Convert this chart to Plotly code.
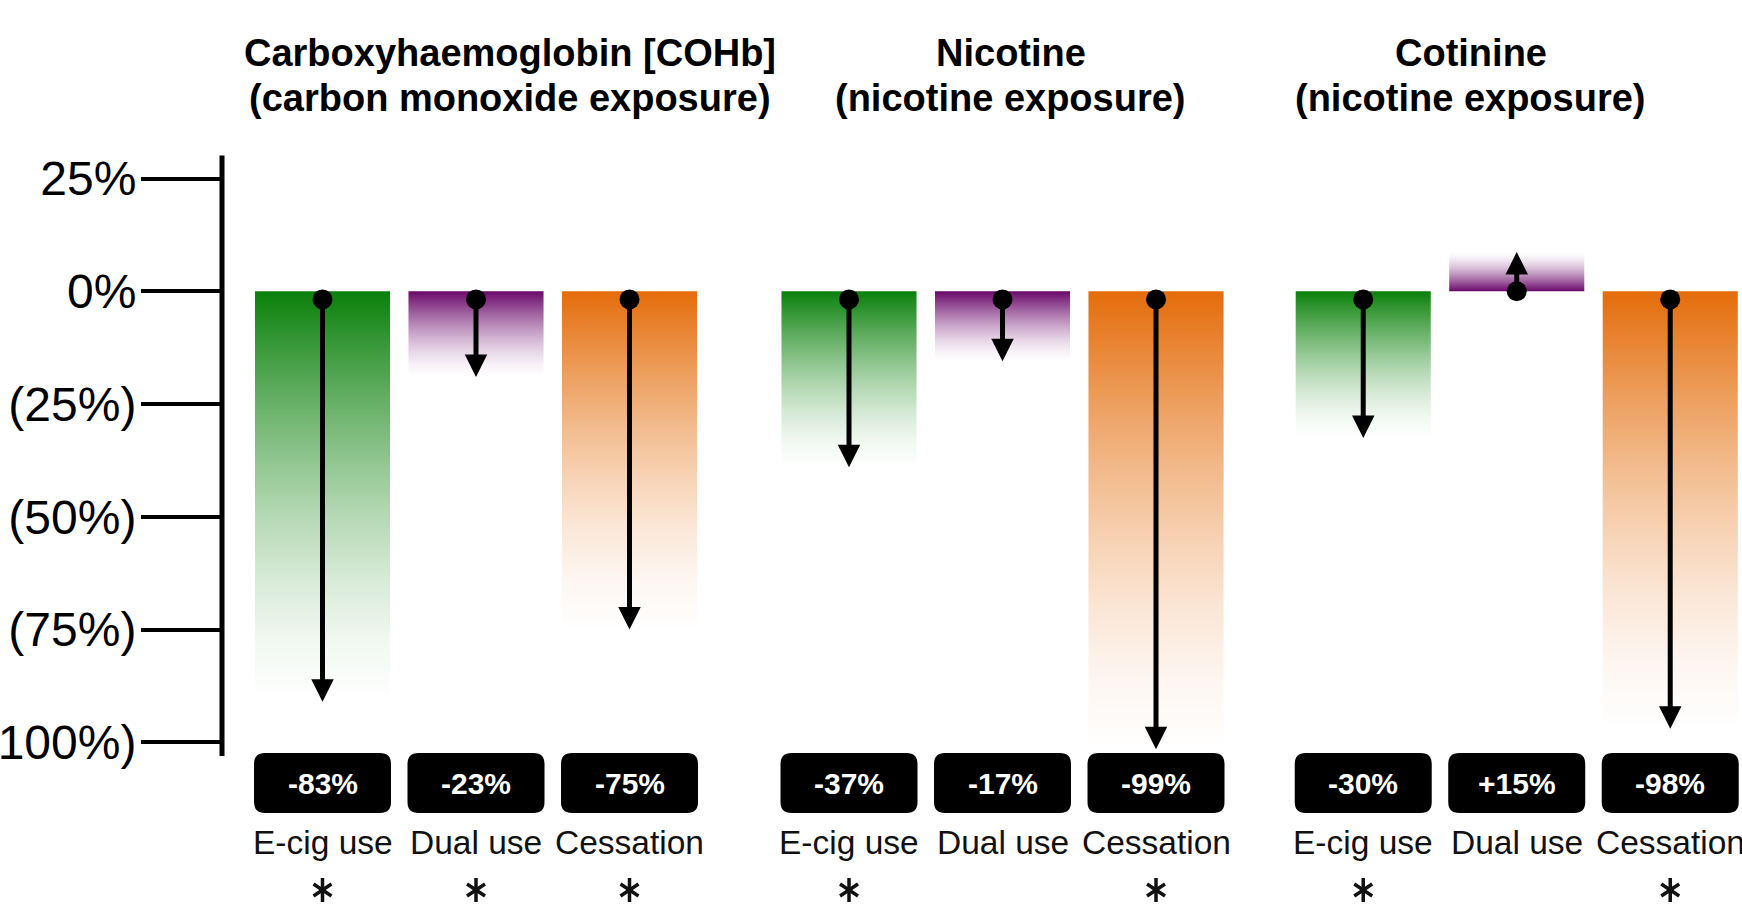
import plotly.graph_objects as go

# ---------------- data ----------------
categories = ["E-cig use", "Dual use", "Cessation"]
panel_title_lines = [
    ["Carboxyhaemoglobin [COHb]", "(carbon monoxide exposure)"],
    ["Nicotine", "(nicotine exposure)"],
    ["Cotinine", "(nicotine exposure)"],
]
# labelled percentage change in each badge
cohb_change = [-83, -23, -75]
nicotine_change = [-37, -17, -99]
cotinine_change = [-30, 15, -98]
# where each drawn arrow ends on the axis
cohb_arrow_end = [-91, -19, -75]
nicotine_arrow_end = [-39, -15.5, -101.5]
cotinine_arrow_end = [-32.5, 8.7, -97]
# asterisk (significance) markers
cohb_significant = [True, True, True]
nicotine_significant = [True, False, True]
cotinine_significant = [True, False, True]

y_tick_values = [25, 0, -25, -50, -75, -100]
y_tick_labels = ["25%", "0%", "(25%)", "(50%)", "(75%)", "(100%)"]

# ---------------- styling / layout constants ----------------
W, H = 1742, 910
FONT = "Liberation Sans, Arial, sans-serif"
cat_colors = [(10, 128, 10), (106, 8, 106), (228, 108, 10)]
group_offsets = [0.0, 3.43, 6.78]
title_shift = [0.2215, 0.055, -0.298]
BAR_W = 0.88
BADGE_W = 0.8925
UNIT_PX = 153.5
X0_PX = 322.5
LEFT = 222
Y0_PX = 291.3
PX_PER_PCT = 4.511

x_range = [-(X0_PX - LEFT) / UNIT_PX, (W - X0_PX) / UNIT_PX]
y_range = [(Y0_PX - H) / PX_PER_PCT, Y0_PX / PX_PER_PCT]


def ypix(p):
    return (Y0_PX - p) / PX_PER_PCT


def mix(rgb, a):
    r, g, b = (round(255 * (1 - a) + c * a) for c in rgb)
    return f"rgb({r},{g},{b})"


def gradient(rgb, downward):
    stops = [0, 0.15, 0.3, 0.45, 0.6, 0.75, 0.9, 1.0]
    cs = []
    for s in stops:
        a = s ** 1.5 if downward else (1 - s) ** 1.5
        cs.append([s, mix(rgb, a)])
    return cs


def rounded_rect(x0, x1, ytop, ybot, rx, ry):
    return (f"M{x0 + rx},{ytop} L{x1 - rx},{ytop} Q{x1},{ytop} {x1},{ytop - ry} "
            f"L{x1},{ybot + ry} Q{x1},{ybot} {x1 - rx},{ybot} "
            f"L{x0 + rx},{ybot} Q{x0},{ybot} {x0},{ybot + ry} "
            f"L{x0},{ytop - ry} Q{x0},{ytop} {x0 + rx},{ytop} Z")


changes_all = [cohb_change, nicotine_change, cotinine_change]
ends_all = [cohb_arrow_end, nicotine_arrow_end, cotinine_arrow_end]
sig_all = [cohb_significant, nicotine_significant, cotinine_significant]

fig = go.Figure()
annotations = []
shapes = []
dot_x, dot_y = [], []
star_x = []

BADGE_TOP = ypix(753)
BADGE_BOT = ypix(813)
LABEL_Y = ypix(842)
STAR_Y = ypix(890)
TITLE_Y = [ypix(53), ypix(98)]

for g in range(3):
    for c in range(3):
        xc = group_offsets[g] + c
        end = ends_all[g][c]
        change = changes_all[g][c]
        down = end < 0
        xl, xr = xc - BAR_W / 2, xc + BAR_W / 2
        fig.add_trace(go.Scatter(
            x=[xl, xr, xr, xl, xl], y=[0, 0, end, end, 0],
            mode="lines", fill="toself",
            line=dict(width=0, color="rgba(0,0,0,0)"),
            fillgradient=dict(type="vertical", colorscale=gradient(cat_colors[c], down)),
            hoverinfo="skip", showlegend=False,
        ))
        start = -1.8 if down else 0
        dot_x.append(xc)
        dot_y.append(start)
        annotations.append(dict(
            x=xc, y=end, ax=xc, ay=start, xref="x", yref="y", axref="x", ayref="y",
            text="", showarrow=True, arrowhead=2, arrowwidth=5, arrowsize=0.9,
            arrowcolor="black", standoff=0, startstandoff=0,
        ))
        # badge
        bx0, bx1 = xc - BADGE_W / 2, xc + BADGE_W / 2
        shapes.append(dict(
            type="path", xref="x", yref="y",
            path=rounded_rect(bx0, bx1, BADGE_TOP, BADGE_BOT, 11 / UNIT_PX, 11 / PX_PER_PCT),
            fillcolor="black", line=dict(width=0), layer="above",
        ))
        annotations.append(dict(
            x=xc, y=(BADGE_TOP + BADGE_BOT) / 2, xref="x", yref="y", showarrow=False,
            text=f"{change:+d}%", font=dict(family=FONT, size=30, color="white", weight="bold"),
        ))
        annotations.append(dict(
            x=xc, y=LABEL_Y, xref="x", yref="y", showarrow=False,
            text=categories[c], font=dict(family=FONT, size=33.5, color="#111111"),
        ))
        if sig_all[g][c]:
            star_x.append(xc)
    for i, line in enumerate(panel_title_lines[g]):
        annotations.append(dict(
            x=group_offsets[g] + 1 + title_shift[g], y=TITLE_Y[i], xref="x", yref="y",
            showarrow=False, text=line, align="center",
            font=dict(family=FONT, size=38, color="black", weight="bold"),
        ))

fig.add_trace(go.Scatter(
    x=dot_x, y=dot_y, mode="markers",
    marker=dict(size=20, color="black", symbol="circle"),
    hoverinfo="skip", showlegend=False,
))
# six-pointed asterisks (significance)
for sym in ["y-up-open", "y-down-open"]:
    fig.add_trace(go.Scatter(
        x=star_x, y=[STAR_Y] * len(star_x), mode="markers",
        marker=dict(size=15, symbol=sym, color="#111111",
                    line=dict(width=3.5, color="#111111")),
        hoverinfo="skip", showlegend=False,
    ))

# vertical axis line
shapes.append(dict(type="line", xref="paper", yref="y", x0=0, x1=0, y0=30.1, y1=-103,
                   line=dict(color="black", width=5)))

fig.update_layout(
    width=W, height=H, autosize=False,
    margin=dict(l=LEFT, r=0, t=0, b=0, pad=0),
    paper_bgcolor="white", plot_bgcolor="white",
    showlegend=False,
    xaxis=dict(range=x_range, visible=False, fixedrange=True, automargin=False),
    yaxis=dict(range=y_range, showgrid=False, zeroline=False, showline=False,
               tickmode="array", tickvals=y_tick_values, ticktext=y_tick_labels,
               ticks="outside", ticklen=80, tickwidth=4, tickcolor="black",
               tickfont=dict(family=FONT, size=48, color="black"),
               ticklabelstandoff=-5, automargin=False, fixedrange=True),
    annotations=annotations,
    shapes=shapes,
)

fig.write_html("out.html", config={"displayModeBar": False},
               post_script="document.body.style.margin='0';document.body.style.overflow='hidden';")
